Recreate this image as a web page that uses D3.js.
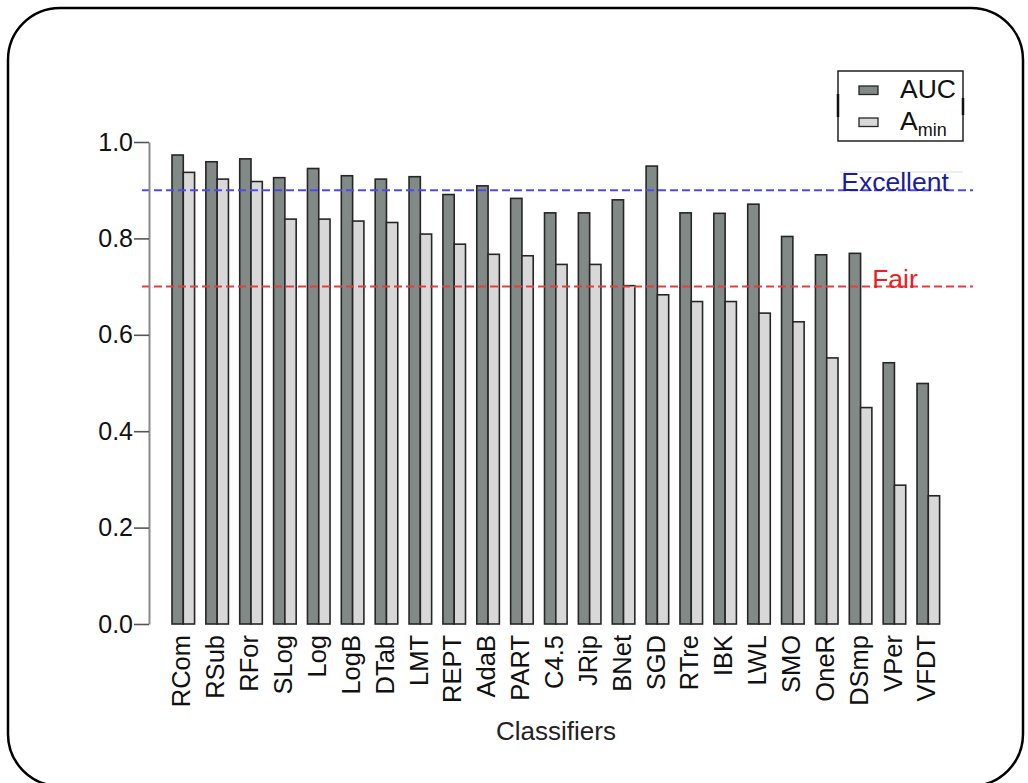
<!DOCTYPE html>
<html>
<head>
<meta charset="utf-8">
<script src="https://cdn.jsdelivr.net/npm/d3@7"></script>
<style>
  html, body { margin: 0; padding: 0; background: #fff; }
  svg { display: block; }
  text { font-family: "Liberation Sans", Arial, Helvetica, sans-serif; }
</style>
</head>
<body>
<svg id="chart" width="1028" height="783"></svg>
<script>
// Classifiers and their scores
const categories = ["RCom","RSub","RFor","SLog","Log","LogB","DTab","LMT","REPT","AdaB","PART",
  "C4.5","JRip","BNet","SGD","RTre","IBK","LWL","SMO","OneR","DSmp","VPer","VFDT"];
const aucValues = [0.973,0.959,0.965,0.926,0.945,0.930,0.923,0.928,0.891,0.909,0.883,
  0.853,0.853,0.880,0.950,0.853,0.852,0.871,0.804,0.766,0.769,0.542,0.499];
const aminValues = [0.937,0.923,0.918,0.840,0.840,0.836,0.833,0.809,0.788,0.767,0.764,
  0.746,0.746,0.702,0.683,0.669,0.669,0.645,0.627,0.552,0.449,0.288,0.266];
const seriesNames = ["AUC", "Amin"];
const yTicks = [0, 0.2, 0.4, 0.6, 0.8, 1.0];
const thresholds = [
  { label: "Excellent", value: 0.9 },
  { label: "Fair", value: 0.7 }
];

const svg = d3.select("#chart");

// outer rounded frame
svg.append("rect")
  .attr("x", 8).attr("y", 8).attr("width", 1015).attr("height", 778)
  .attr("rx", 52).attr("ry", 52)
  .attr("fill", "none").attr("stroke", "#000").attr("stroke-width", 2.5);

const y = d3.scaleLinear().domain([0, 1]).range([624, 142]);

const x = d3.scaleBand().domain(categories)
  .range([172, 939.6]).paddingInner(1 / 3).paddingOuter(0);
const xInner = d3.scaleBand().domain(seriesNames).range([0, x.bandwidth()]);

const fills = { AUC: "#818a87", Amin: "#d8d8d8" };

// threshold lines
const lineColors = { Excellent: "#4b4bf5", Fair: "#f03a3a" };
const textColors = { Excellent: "#1c1c9c", Fair: "#f01e1e" };

const groups = svg.append("g").selectAll("g")
  .data(categories.map((c, i) => ({ c, vals: [
    { key: "AUC", v: aucValues[i] }, { key: "Amin", v: aminValues[i] }] })))
  .join("g")
  .attr("transform", d => `translate(${x(d.c)},0)`);

groups.selectAll("rect")
  .data(d => d.vals)
  .join("rect")
  .attr("x", d => xInner(d.key))
  .attr("y", d => y(d.v))
  .attr("width", xInner.bandwidth())
  .attr("height", d => y(0) - y(d.v))
  .attr("fill", d => fills[d.key])
  .attr("stroke", "#262626")
  .attr("stroke-width", 1.6);

// faint rule above the "Excellent" label
svg.append("line")
  .attr("x1", 840).attr("x2", 963).attr("y1", 172).attr("y2", 172)
  .attr("stroke", "#dcdcdc").attr("stroke-width", 1);

thresholds.forEach(t => {
  svg.append("line")
    .attr("x1", 142).attr("x2", 973)
    .attr("y1", y(t.value)).attr("y2", y(t.value))
    .attr("stroke", lineColors[t.label])
    .attr("stroke-width", 2)
    .attr("stroke-dasharray", "8,4");
  svg.append("text")
    .attr("x", 895).attr("y", y(t.value) + 1)
    .attr("text-anchor", "middle")
    .attr("fill", textColors[t.label])
    .attr("font-size", 26.5)
    .text(t.label);
});

// y axis
const yAxis = d3.axisLeft(y).tickValues(yTicks)
  .tickFormat(d3.format(".1f")).tickSize(15).tickSizeOuter(0).tickPadding(1);
const gy = svg.append("g").attr("transform", "translate(149,0)").call(yAxis);
gy.select(".domain").attr("stroke", "#8a8a8a").attr("stroke-width", 2);
gy.selectAll(".tick line").attr("stroke", "#555").attr("stroke-width", 1.6);
gy.selectAll(".tick text")
  .attr("font-size", 25).attr("fill", "#111")
  .attr("font-family", "'Liberation Sans', Arial, sans-serif");

// rotated category labels
svg.append("g").selectAll("text")
  .data(categories)
  .join("text")
  .attr("transform", d => `translate(${x(d) + x.bandwidth() / 2 - 2},635) rotate(-90)`)
  .attr("text-anchor", "end")
  .attr("dy", "0.36em")
  .attr("font-size", 25.5)
  .attr("fill", "#111")
  .text(d => d);

// axis title
svg.append("text")
  .attr("x", 556).attr("y", 740)
  .attr("text-anchor", "middle")
  .attr("font-size", 26)
  .attr("fill", "#222")
  .text("Classifiers");

// legend
const lg = svg.append("g");
lg.append("rect")
  .attr("x", 838).attr("y", 71).attr("width", 125).attr("height", 70)
  .attr("fill", "#fff").attr("stroke", "#222").attr("stroke-width", 1.5);
lg.append("line").attr("x1", 838).attr("x2", 838).attr("y1", 94).attr("y2", 117)
  .attr("stroke", "#111").attr("stroke-width", 2.5);
lg.append("line").attr("x1", 963).attr("x2", 963).attr("y1", 98).attr("y2", 115)
  .attr("stroke", "#111").attr("stroke-width", 2.5);
const legendRows = [
  { key: "AUC", yy: 90 },
  { key: "Amin", yy: 122 }
];
legendRows.forEach(r => {
  lg.append("rect")
    .attr("x", 859).attr("y", r.yy - 4).attr("width", 19).attr("height", 8.5)
    .attr("fill", fills[r.key]).attr("stroke", "#262626").attr("stroke-width", 1.3);
});
lg.append("text").attr("x", 900).attr("y", 98).attr("font-size", 26.5)
  .attr("fill", "#111").text("AUC");
const amin = lg.append("text").attr("x", 900).attr("y", 130).attr("font-size", 26.5).attr("fill", "#111");
amin.append("tspan").text("A");
amin.append("tspan").attr("font-size", 18).attr("dy", 6).text("min");
</script>
</body>
</html>
